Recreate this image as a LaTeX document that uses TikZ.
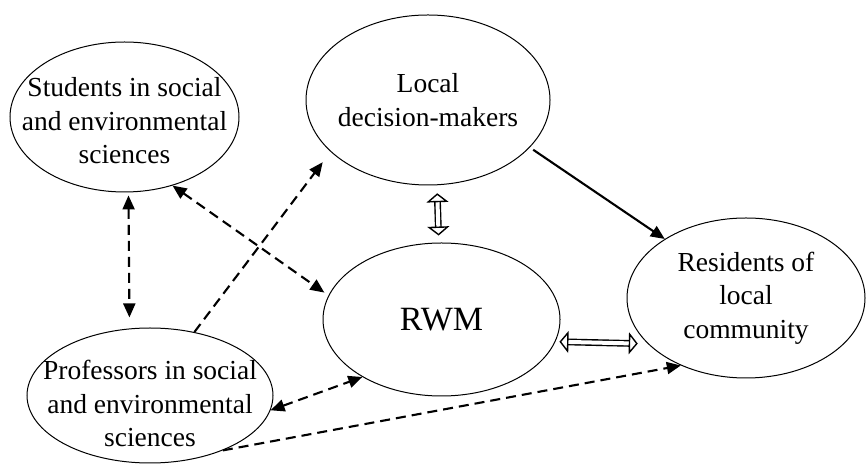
\documentclass[tikz,border=0pt]{standalone}
\usepackage{fontspec}
\setmainfont{Liberation Serif}
\usetikzlibrary{arrows.meta, shapes.geometric}

\begin{document}
\begin{tikzpicture}[x=1pt, y=1pt,
		actor/.style={ellipse, draw, line width=1pt, inner sep=0pt},
		txt/.style={align=center, font=\fontsize{27.5}{33.5}\selectfont},
		tip/.tip={Triangle[length=14pt, width=12pt]},
		head/.tip={Triangle[open, fill=white, length=9pt, width=22pt, line width=1.4pt]},
		link/.style={line width=2.1pt, -tip},
		dashlink/.style={link, dash pattern=on 10pt off 6pt},
		flow/.style={double, double distance=4pt, line width=1.4pt, head-head}]
	\useasboundingbox (0,0) rectangle (866,465);
	\node[actor, minimum width=229, minimum height=150] (stud) at (124.5,348) {};
	\node[actor, minimum width=244, minimum height=170] (local) at (428,365) {};
	\node[actor, minimum width=237, minimum height=153] (rwm) at (441.5,145.5) {};
	\node[actor, minimum width=238, minimum height=160] (res) at (746,167) {};
	\node[actor, minimum width=246, minimum height=135] (prof) at (150,69.5) {};
	\node[txt, yshift=-4] (studtext) at (stud) {Students in social\\and environmental\\sciences};
	\node[txt] (localtext) at (local) {Local\\decision-makers};
	\node[txt, font=\fontsize{34}{40}\selectfont] (rwmtext) at (rwm) {RWM};
	\node[txt] (restext) at (res) {Residents of\\local\\community};
	\node[txt, yshift=-8] (proftext) at (prof) {Professors in social\\and environmental\\sciences};
	% dashed links
	\draw[dashlink, tip-tip, shorten <=3, shorten >=11] (stud.-87) -- (prof.107);
	\draw[dashlink, tip-tip, shorten >=5] (stud.-55) -- (rwm.168);
	\draw[dashlink, shorten >=13] (prof.55) -- (local.-152);
	\draw[dashlink, tip-tip] (prof.-7) -- (rwm.-144.5);
	\draw[dashlink] (prof.-37) -- (res.-134);
	% solid link
	\draw[link, shorten <=4] (local.-25) -- (res.144);
	% two-way flows
	\draw[flow, shorten <=8, shorten >=7] (local.-84) -- (rwm.92);
	\draw[flow, shorten <=4, shorten >=10] (rwm.-11) -- (res.-155.5);
\end{tikzpicture}
\end{document}
